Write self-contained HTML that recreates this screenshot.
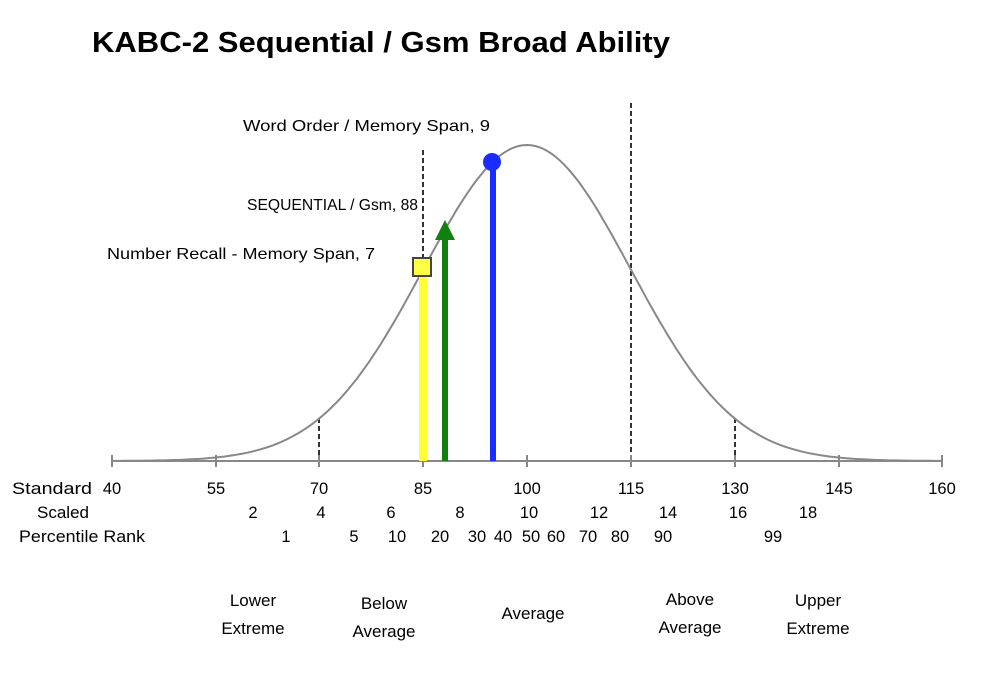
<!DOCTYPE html>
<html><head><meta charset="utf-8">
<style>
html,body{margin:0;padding:0;background:#fff;}
svg{display:block;}
text{font-family:"Liberation Sans",sans-serif;fill:#000;}
</style></head>
<body>
<svg width="990" height="678" viewBox="0 0 990 678" xmlns="http://www.w3.org/2000/svg">
<text x="92" y="52" font-size="29" font-weight="bold" textLength="578" lengthAdjust="spacingAndGlyphs">KABC-2 Sequential / Gsm Broad Ability</text>

<g stroke="#000" stroke-width="1.6" stroke-dasharray="5,3">
<line x1="319" y1="418" x2="319" y2="461"/>
<line x1="423" y1="150" x2="423" y2="461"/>
<line x1="631" y1="103" x2="631" y2="461"/>
<line x1="735" y1="418" x2="735" y2="461"/>
</g>

<path id="curve" fill="none" stroke="#888" stroke-width="2" d=""/>

<g stroke="#888" stroke-width="2">
<line x1="111" y1="461" x2="943" y2="461"/>
<line x1="112" y1="455" x2="112" y2="467"/>
<line x1="216" y1="455" x2="216" y2="467"/>
<line x1="319" y1="455" x2="319" y2="467"/>
<line x1="423" y1="455" x2="423" y2="467"/>
<line x1="527" y1="455" x2="527" y2="467"/>
<line x1="631" y1="455" x2="631" y2="467"/>
<line x1="735" y1="455" x2="735" y2="467"/>
<line x1="839" y1="455" x2="839" y2="467"/>
<line x1="942" y1="455" x2="942" y2="467"/>
</g>

<rect x="419" y="270" width="8" height="191" fill="#ffff33"/>
<rect x="442" y="238" width="6" height="223" fill="#118011"/>
<polygon points="445,220 435,240 455,240" fill="#118011"/>
<rect x="490" y="162" width="6" height="299" fill="#1a2cff"/>
<circle cx="492" cy="162" r="9" fill="#1a2cff"/>
<rect x="413" y="258" width="18" height="18" fill="#ffff44" stroke="#444" stroke-width="2"/>

<g font-size="16">
<text x="243" y="131" textLength="247" lengthAdjust="spacingAndGlyphs">Word Order / Memory Span, 9</text>
<text x="247" y="210" textLength="171" lengthAdjust="spacingAndGlyphs">SEQUENTIAL / Gsm, 88</text>
<text x="107" y="259" textLength="268" lengthAdjust="spacingAndGlyphs">Number Recall - Memory Span, 7</text>
</g>

<g font-size="16.5">
<text x="12" y="494" textLength="80" lengthAdjust="spacingAndGlyphs">Standard</text>
<g text-anchor="middle">
<text x="112" y="494">40</text><text x="216" y="494">55</text><text x="319" y="494">70</text>
<text x="423" y="494">85</text><text x="527" y="494">100</text><text x="631" y="494">115</text>
<text x="735" y="494">130</text><text x="839" y="494">145</text><text x="942" y="494">160</text>
</g>
<text x="37" y="518" textLength="52" lengthAdjust="spacingAndGlyphs">Scaled</text>
<g text-anchor="middle">
<text x="253" y="518">2</text><text x="321" y="518">4</text><text x="391" y="518">6</text>
<text x="460" y="518">8</text><text x="529" y="518">10</text><text x="599" y="518">12</text>
<text x="668" y="518">14</text><text x="738" y="518">16</text><text x="808" y="518">18</text>
</g>
<text x="19" y="542" textLength="126" lengthAdjust="spacingAndGlyphs">Percentile Rank</text>
<g text-anchor="middle">
<text x="286" y="542">1</text><text x="354" y="542">5</text><text x="397" y="542">10</text>
<text x="440" y="542">20</text><text x="477" y="542">30</text><text x="503" y="542">40</text>
<text x="531" y="542">50</text><text x="556" y="542">60</text><text x="588" y="542">70</text>
<text x="620" y="542">80</text><text x="663" y="542">90</text><text x="773" y="542">99</text>
</g>
</g>

<g font-size="17" text-anchor="middle">
<text x="253" y="606">Lower</text><text x="253" y="634">Extreme</text>
<text x="384" y="609">Below</text><text x="384" y="637">Average</text>
<text x="533" y="619">Average</text>
<text x="690" y="605">Above</text><text x="690" y="633">Average</text>
<text x="818" y="606">Upper</text><text x="818" y="634">Extreme</text>
</g>
</svg>
<script>
(function(){
var d="";
for(var i=0;i<=200;i++){
 var v=40+i*0.6;
 var x=112+(v-40)*(830/120);
 var z=(v-100)/15;
 var y=461-316*Math.exp(-0.5*z*z);
 d+=(i?"L":"M")+x.toFixed(1)+","+y.toFixed(1);
}
document.getElementById("curve").setAttribute("d",d);
})();
</script>
</body></html>
